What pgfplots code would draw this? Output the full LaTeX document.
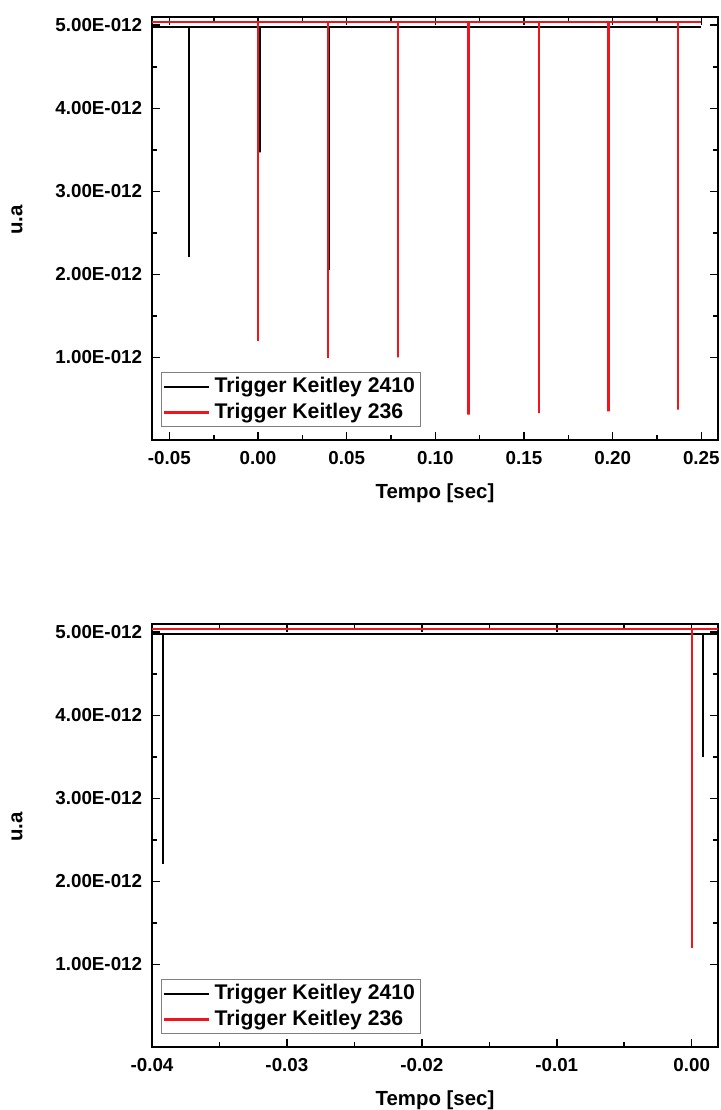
\documentclass[border=0pt]{standalone}
\usepackage{fontspec}
\setmainfont{Liberation Sans}
\usepackage{pgfplots}
\pgfplotsset{compat=1.18}
\definecolor{ored}{RGB}{240,20,28}
\pgfplotsset{
  myax/.style={
    scale only axis, width=283pt, height=211.5pt,
    ymin=0.005e-12, ymax=5.1e-12,
    ytick={1e-12,2e-12,3e-12,4e-12,5e-12},
    yticklabels={1.00E-012,2.00E-012,3.00E-012,4.00E-012,5.00E-012},
    scaled y ticks=false, scaled x ticks=false,
    minor y tick num=1, minor x tick num=1,
    tick align=inside, tick pos=both,
    major tick length=4pt, minor tick length=2.5pt,
    axis line style={line width=1pt},
    every tick/.style={line width=0.8pt, black},
    tick label style={font=\fontsize{9.4}{11}\selectfont\bfseries},
    xticklabel style={anchor=center, yshift=-9pt},
    yticklabel style={anchor=east, xshift=-1.4pt},
    ylabel={u.a}, xlabel={Tempo [sec]},
    label style={font=\fontsize{10.2}{12}\selectfont\bfseries},
    ylabel style={at={(axis description cs:-0.2385,0.52)}, anchor=center},
    xlabel style={at={(axis description cs:0.5,0)}, anchor=center, yshift=-26.5pt},
    legend style={at={(0,0)}, anchor=south west, xshift=4.5pt, yshift=6.5pt,
      draw=gray, line width=0.5pt, font=\fontsize{10.6}{12}\selectfont\bfseries,
      inner sep=0.5pt, row sep=0pt,
      nodes={inner xsep=2.2pt, inner ysep=1.9pt}},
    legend cell align=left,
    legend image code/.code={\draw[##1] (0pt,0pt) -- (22.8pt,0pt);},
  }
}
\begin{document}
\begin{tikzpicture}
\path[use as bounding box] (-76pt,-31.5pt) rectangle (284.5pt,523.5pt);
% top panel
\begin{axis}[myax, at={(0pt,303.5pt)}, anchor=south west,
  xmin=-0.0598, xmax=0.2594,
  xtick={-0.05,0,0.05,0.10,0.15,0.20,0.25},
  xticklabels={-0.05,0.00,0.05,0.10,0.15,0.20,0.25}]
\addplot[black, line width=1pt] coordinates {
(-0.0598,4.98e-12) (-0.0392,4.98e-12) (-0.0392,2.21e-12) (-0.0392,4.98e-12)
(0.0009,4.98e-12) (0.0009,3.47e-12) (0.0009,4.98e-12)
(0.0399,4.98e-12) (0.0399,2.05e-12) (0.0399,4.98e-12)
(0.1191,4.98e-12) (0.1191,3.16e-12) (0.1191,4.98e-12)
(0.1587,4.98e-12) (0.1587,2.05e-12) (0.1587,4.98e-12)
(0.2371,4.98e-12) (0.2371,2.05e-12) (0.2371,4.98e-12)
(0.2500,4.98e-12)};
\addlegendentry{Trigger Keitley 2410}
\addplot[ored, line width=1.1pt] coordinates {
(-0.0598,5.04e-12) (0.0000,5.04e-12) (0.0000,1.20e-12) (0.0000,5.04e-12)
(0.0395,5.04e-12) (0.0395,0.99e-12) (0.0395,5.04e-12)
(0.0790,5.04e-12) (0.0790,1.00e-12) (0.0790,5.04e-12)
(0.1187,5.04e-12) (0.1187,0.31e-12) (0.1187,5.04e-12)
(0.1583,5.04e-12) (0.1583,0.33e-12) (0.1583,5.04e-12)
(0.1977,5.04e-12) (0.1977,0.35e-12) (0.1977,5.04e-12)
(0.2367,5.04e-12) (0.2367,0.37e-12) (0.2367,5.04e-12)
(0.2500,5.04e-12)};
\addlegendentry{Trigger Keitley 236}
\end{axis}
% bottom panel
\begin{axis}[myax, at={(0pt,0pt)}, anchor=south west,
  xmin=-0.04, xmax=0.00195,
  xtick={-0.04,-0.03,-0.02,-0.01,0},
  xticklabels={-0.04,-0.03,-0.02,-0.01,0.00}]
\addplot[black, line width=1pt] coordinates {
(-0.04,4.98e-12) (-0.0392,4.98e-12) (-0.0392,2.21e-12) (-0.0392,4.98e-12)
(0.00085,4.98e-12) (0.00085,3.50e-12) (0.00085,4.98e-12)
(0.00195,4.98e-12)};
\addlegendentry{Trigger Keitley 2410}
\addplot[ored, line width=1.1pt] coordinates {
(-0.04,5.04e-12) (0.0000,5.04e-12) (0.0000,1.20e-12) (0.0000,5.04e-12)
(0.00195,5.04e-12)};
\addlegendentry{Trigger Keitley 236}
\end{axis}
\end{tikzpicture}
\end{document}
